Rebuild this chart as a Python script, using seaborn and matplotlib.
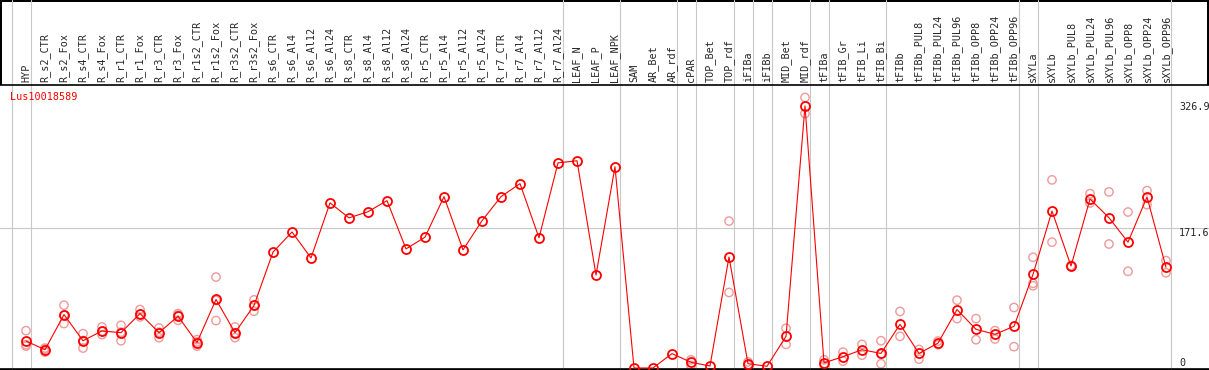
import numpy as np
import pandas as pd
import matplotlib
matplotlib.use("Agg")
import matplotlib.pyplot as plt
import seaborn as sns

gene = "Lus10018589"

categories = [
    "HYP", "R_s2_CTR", "R_s2_Fox", "R_s4_CTR", "R_s4_Fox", "R_r1_CTR", "R_r1_Fox",
    "R_r3_CTR", "R_r3_Fox", "R_r1s2_CTR", "R_r1s2_Fox", "R_r3s2_CTR", "R_r3s2_Fox",
    "R_s6_CTR", "R_s6_Al4", "R_s6_Al12", "R_s6_Al24", "R_s8_CTR", "R_s8_Al4",
    "R_s8_Al12", "R_s8_Al24", "R_r5_CTR", "R_r5_Al4", "R_r5_Al12", "R_r5_Al24",
    "R_r7_CTR", "R_r7_Al4", "R_r7_Al12", "R_r7_Al24", "LEAF_N", "LEAF_P", "LEAF_NPK",
    "SAM", "AR_Bet", "AR_rdf", "cPAR", "TOP_Bet", "TOP_rdf", "iFIBa", "iFIBb",
    "MID_Bet", "MID_rdf", "tFIBa", "tFIB_Gr", "tFIB_Li", "tFIB_Bi", "tFIBb",
    "tFIBb_PUL8", "tFIBb_PUL24", "tFIBb_PUL96", "tFIBb_OPP8", "tFIBb_OPP24",
    "tFIBb_OPP96", "sXYLa", "sXYLb", "sXYLb_PUL8", "sXYLb_PUL24", "sXYLb_PUL96",
    "sXYLb_OPP8", "sXYLb_OPP24", "sXYLb_OPP96",
]

# number of samples in each tissue group (grey separators between groups)
group_sizes = [1, 28, 3, 3, 1, 2, 1, 1, 2, 1, 3, 7, 1, 7]

means = [
    33.1, 22.5, 65.6, 33.5, 45.5, 43.4, 66.9, 43.4, 63.6, 31.3, 84.2, 43.4, 76.8,
    142.4, 167.1, 135.2, 202.9, 184.4, 192.0, 205.6, 146.3, 160.7, 210.5, 145.1,
    180.9, 210.5, 226.5, 159.9, 252.0, 254.6, 114.2, 247.2,
    0.0, 0.0, 17.7, 7.0, 2.5, 136.4, 5.3, 2.1, 38.9, 322.0,
    6.4, 13.8, 22.5, 17.9, 53.7, 17.9, 30.6, 71.8, 47.5, 41.4, 51.2,
    115.0, 192.8, 125.3, 207.6, 184.6, 154.6, 210.1, 123.7,
]

nan = np.nan
rep_a = [
    45.9, 24.5, 77.2, 42.2, 50.4, 52.5, 71.8, 49.2, 66.9, 34.8, 111.7, 50.4, 83.7,
    nan, nan, nan, nan, nan, nan, nan, nan, nan, nan, nan, nan, nan, nan, nan, nan,
    nan, nan, nan,
    nan, nan, nan, 10.1, nan, 180.5, 7.5, nan, 48.8, 332.3,
    10.1, 19.5, 29.0, 33.5, 69.4, 22.8, 33.1, 83.3, 60.7, 45.9, 74.3,
    136.0, 231.1, 125.0, 214.2, 216.3, 191.6, 217.9, 131.9,
]
rep_b = [
    26.9, 19.5, 54.6, 24.5, 41.0, 33.5, 62.7, 37.2, 58.6, 26.9, 58.3, 37.3, 69.8,
    nan, nan, nan, nan, nan, nan, nan, nan, nan, nan, nan, nan, nan, nan, nan, nan,
    nan, nan, nan,
    nan, nan, nan, 3.1, nan, 92.8, 3.5, nan, 29.0, 312.6,
    3.1, 8.4, 15.8, 5.2, 38.9, 10.9, 28.6, 60.7, 34.8, 35.6, 26.2,
    101.0, 154.6, 126.0, 202.7, 152.3, 118.8, 200.6, 117.0,
]
rep_c = [
    28.6, 23.0, 65.0, 33.8, 45.0, 44.0, 66.0, 44.0, 65.0, 32.0, 83.0, 43.0, 77.0,
    nan, nan, nan, nan, nan, nan, nan, nan, nan, nan, nan, nan, nan, nan, nan, nan,
    nan, nan, nan,
    nan, nan, nan, nan, nan, nan, nan, nan, nan, nan,
    nan, nan, nan, 17.0, nan, nan, nan, nan, nan, nan, nan,
    104.0, nan, nan, nan, nan, nan, nan, nan,
]

y_marks = [326.9, 171.6, 0]

W, H = 1209, 370
pos = np.arange(len(categories))
mean_df = pd.DataFrame({"pos": pos, "value": means})
rep_df = pd.DataFrame({"pos": np.tile(pos, 3), "value": rep_a + rep_b + rep_c}).dropna()

sns.set_style("white")
mono = "DejaVu Sans Mono"

fig = plt.figure(figsize=(W / 100, H / 100), dpi=100, edgecolor="black", linewidth=1.5)
ax_top = 85
ax = fig.add_axes([0, 1 / H, 1, (369 - ax_top) / H])

grey = "#c8c8c8"
ax.axhline(y_marks[1], color=grey, lw=0.8, zorder=0)
ends = np.cumsum(group_sizes) - 1
for b in np.concatenate([[-1], ends]):
    ax.axvline(b + 0.25, ymin=0, ymax=(369) / (369 - ax_top), color=grey, lw=0.8,
               clip_on=False, zorder=0)

sns.scatterplot(data=rep_df, x="pos", y="value", ax=ax, marker="o", s=36,
                facecolors="none", edgecolors="#ee9a9a", linewidth=1.0, zorder=2,
                legend=False)
sns.lineplot(data=mean_df, x="pos", y="value", ax=ax, color="#ff0000", lw=0.8,
             marker="o", ms=6.5, mfc="none", mec="#ff0000", mew=1.3, sort=False,
             zorder=3)

# pixel mapping: index i -> 26 + 19 i, value 0 -> y 368, 0.814 px per unit
ax.set_xlim(-26 / 19, (W - 26) / 19)
ax.set_ylim((368 - 369) / 0.814, (368 - ax_top) / 0.814)

ax.xaxis.tick_top()
ax.set_xticks(pos)
ax.set_xticklabels(categories, rotation=90, fontsize=7.3, family=mono)
ax.tick_params(axis="x", length=0, pad=2)
ax.set_yticks([])
ax.set_xlabel("")
ax.set_ylabel("")
for s in ["left", "right"]:
    ax.spines[s].set_visible(False)
for s in ["top", "bottom"]:
    ax.spines[s].set_color("black")
    ax.spines[s].set_linewidth(1.2)

ax.text(10 / W, (369 - 97) / (369 - ax_top), gene, transform=ax.transAxes,
        color="#ff0000", fontsize=7.3, family=mono, va="center", ha="left")

ytr = ax.get_yaxis_transform()
ax.text(1179 / W, y_marks[0], f"{y_marks[0]}", transform=ytr, fontsize=7.3,
        family=mono, va="top", ha="left")
ax.text(1179 / W, y_marks[1], f"{y_marks[1]}", transform=ytr, fontsize=7.3,
        family=mono, va="top", ha="left")
ax.text(1179 / W, y_marks[2], f"{y_marks[2]}", transform=ytr, fontsize=7.3,
        family=mono, va="bottom", ha="left")

fig.savefig("out.png", dpi=100, edgecolor=fig.get_edgecolor())
